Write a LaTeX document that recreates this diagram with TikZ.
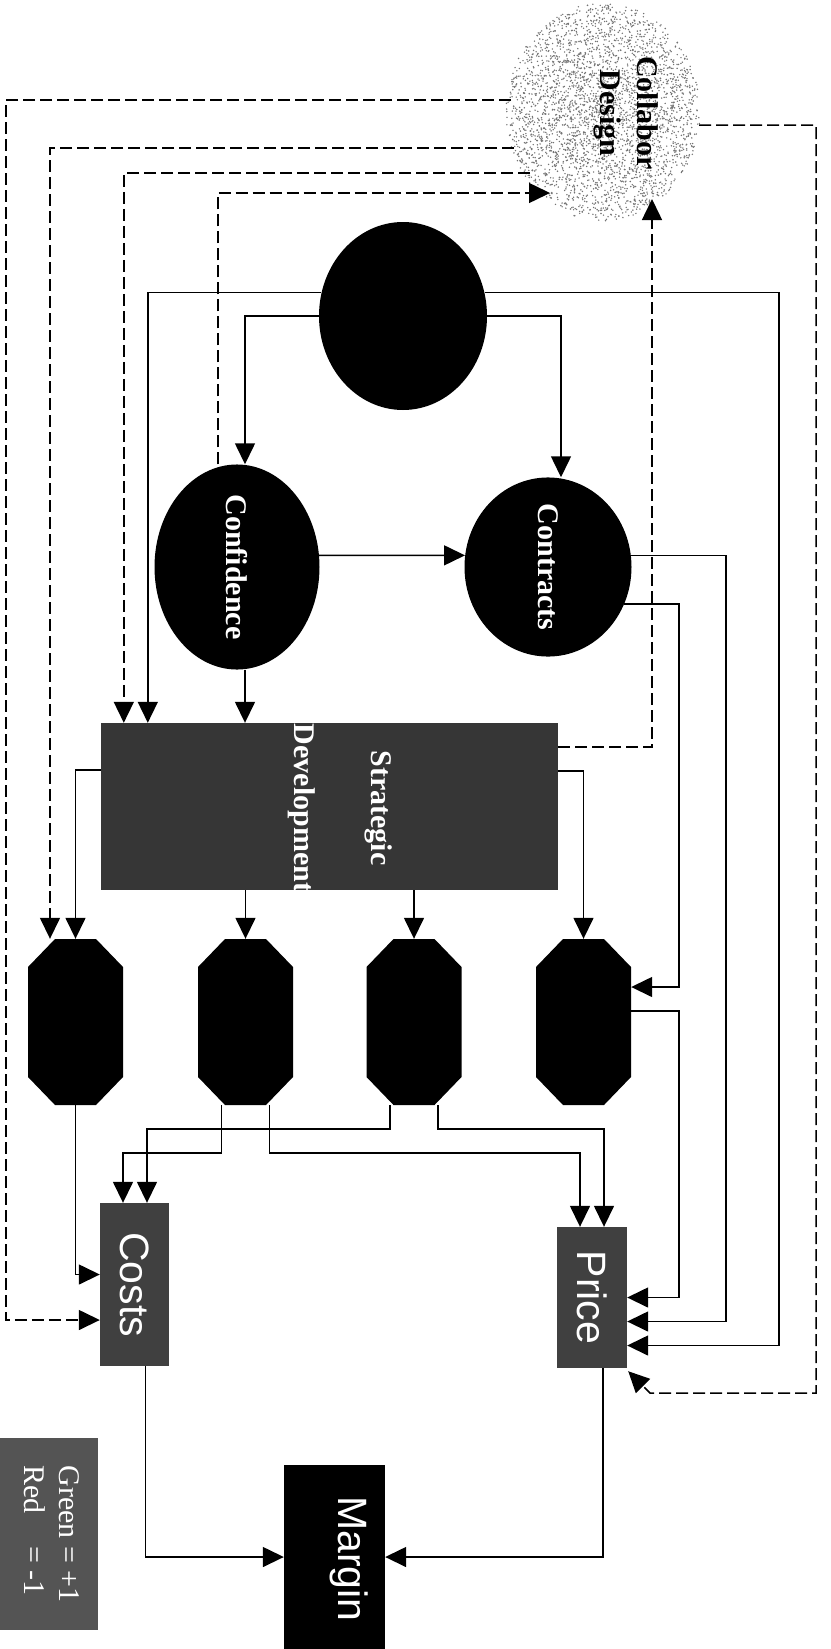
\documentclass[tikz,border=0pt]{standalone}
\usepackage{fontspec}
\setmainfont{Liberation Serif}
\newfontfamily\arialfont{Liberation Sans}
\usetikzlibrary{arrows.meta,shapes.geometric,calc}
\definecolor{stratgray}{gray}{0.21}
\definecolor{boxgray}{gray}{0.25}
\definecolor{leggray}{gray}{0.33}
\definecolor{dotgray}{gray}{0.45}
\begin{document}
\begin{tikzpicture}[x=1pt,y=-1pt,
  conn/.style={line width=1.5pt,-{Triangle[length=21pt,width=20pt]}},
  dconn/.style={conn,dash pattern=on 12pt off 5pt},
  blackell/.style={ellipse,fill=black,inner sep=0pt,text=white,
    font=\fontsize{30}{36}\selectfont\bfseries},
  octbox/.style={rectangle,minimum width=95pt,minimum height=166pt,inner sep=0pt,
    path picture={\fill[black]
      ([xshift=27pt]path picture bounding box.north west) --
      ([xshift=-27pt]path picture bounding box.north east) --
      ([yshift=-28pt]path picture bounding box.north east) --
      ([yshift=28pt]path picture bounding box.south east) --
      ([xshift=-27pt]path picture bounding box.south east) --
      ([xshift=27pt]path picture bounding box.south west) --
      ([yshift=28pt]path picture bounding box.south west) --
      ([yshift=-28pt]path picture bounding box.north west) -- cycle;}},
  sansbox/.style={rectangle,fill=boxgray,inner sep=0pt,text=white,
    font=\arialfont\fontsize{41}{48}\selectfont},
  whitebold/.style={text=white,inner sep=0pt,font=\fontsize{30}{77}\selectfont\bfseries}
]
\useasboundingbox (0,0) rectangle (830,1649);

% Collabor Design speckled blob
\pgfmathsetseed{7}
\foreach \i in {1,...,3400}{
  \pgfmathsetmacro\rr{pow(rnd,0.6)}
  \pgfmathsetmacro\aa{360*rnd}
  \fill[dotgray] ({603+97*\rr*cos(\aa)},{112+109*\rr*sin(\aa)}) circle[radius=0.8pt];
}
\node[inner sep=0pt,font=\fontsize{30}{37}\selectfont\bfseries] (blob) at (626,113)
  {\rotatebox{-90}{\begin{tabular}{@{}c@{}}Collabor\\Design\end{tabular}}};
\coordinate (cd1) at (511,100);
\coordinate (cd2) at (514,148);
\coordinate (cd3) at (530,173);
\coordinate (cd4) at (550,193);
\coordinate (cd5) at (652,199);
\coordinate (cd6) at (699,125);

% nodes
\node[blackell,minimum width=168pt,minimum height=188pt] (topel) at (403,316) {};
\node[blackell,minimum width=165pt,minimum height=163pt] (conf) at (237,567) {\rotatebox{-90}{Confidence}};
\node[blackell,minimum width=167pt,minimum height=163pt] (contr) at (548,567) {\rotatebox{-90}{Contracts}};
\node[rectangle,fill=stratgray,minimum width=457pt,minimum height=167pt,inner sep=0pt] (strat) at (329.5,806.5) {};
\node[whitebold] (strattext) at (348.5,808)
  {\rotatebox{-90}{\fontsize{30}{77}\selectfont\begin{tabular}{@{}c@{}}Strategic\\Development\end{tabular}}};
\node[octbox] (oct1) at (75.5,1022) {};
\node[octbox] (oct2) at (245.5,1022) {};
\node[octbox] (oct3) at (414,1022) {};
\node[octbox] (oct4) at (583.5,1022) {};
\node[sansbox,minimum width=69pt,minimum height=163pt] (costs) at (134.5,1284.5) {\rotatebox{-90}{Costs}};
\node[sansbox,minimum width=70pt,minimum height=141pt] (price) at (592,1297.5) {\rotatebox{-90}{Price}};
\node[rectangle,fill=black,minimum width=101pt,minimum height=184pt,inner sep=0pt] (margin) at (334.5,1557) {};
\node[text=white,inner sep=0pt,font=\arialfont\fontsize{41}{48}\selectfont] (margintext) at (349,1559) {\rotatebox{-90}{Margin}};
\node[rectangle,fill=leggray,minimum width=98pt,minimum height=192pt,inner sep=0pt,
  text=white,font=\fontsize{30}{35}\selectfont] (legend) at (49,1534)
  {\rotatebox{-90}{\fontsize{30}{35}\selectfont\begin{tabular}{@{}l@{\ }l@{}}Green & = +1\\Red & = -1\end{tabular}}};

% solid connectors
\draw[conn] (topel.west) -| ([xshift=8pt]conf.north);
\draw[conn] (topel.east) -| ([xshift=13pt]contr.north);
\draw[conn] (topel.164) -| ([xshift=47pt]strat.north west);
\draw[conn] (topel.16) -| (779,700) |- ([yshift=-48pt]price.east);
\draw[conn] (conf.8) -- (contr.172);
\draw[conn] ([xshift=8pt]conf.south) -- ([xshift=8pt]conf.south |- strat.north);
\draw[conn] (contr.8) -| (726,900) |- ([yshift=-24pt]price.east);
\draw[conn] (contr.-26) -| (679,800) |- ([yshift=35pt]oct4.east);
\draw[conn] ([yshift=11pt]oct4.east) -| (679,1200) |- (price.east);
\draw[conn] ([yshift=36.5pt]strat.west) -| (oct1.north);
\draw[conn] ([yshift=35.5pt]strat.east) -| (oct4.north);
\draw[conn] (oct2.north |- strat.south) -- (oct2.north);
\draw[conn] (oct3.north |- strat.south) -- (oct3.north);
\draw[conn] (oct1.south) |- ([yshift=10pt]costs.west);
\draw[conn] ([xshift=-24pt]oct2.south) -- ++(0,48) -| ([xshift=-11.5pt]costs.north);
\draw[conn] ([xshift=24pt]oct2.south) -- ++(0,48) -| ([xshift=-12pt]price.north);
\draw[conn] ([xshift=-24pt]oct3.south) -- ++(0,24) -| ([xshift=12.5pt]costs.north);
\draw[conn] ([xshift=24pt]oct3.south) -- ++(0,24) -| ([xshift=12pt]price.north);
\draw[conn] ([xshift=11pt]costs.south) |- (margin.west);
\draw[conn] ([xshift=11pt]price.south) |- (margin.east);

% dashed connectors
\draw[dconn] (cd1) -| (6,800) |- ([yshift=-35.5pt]costs.west);
\draw[dconn] (cd2) -| ([xshift=-25.5pt]oct1.north);
\draw[dconn] (cd3) -| ([xshift=23pt]strat.north west);
\draw[dconn] ([xshift=-19pt]conf.north) |- (cd4);
\draw[dconn] ([yshift=59.5pt]strat.east) -| (cd5);
\draw[dconn] (cd6) -| (816,800) |- (650,1393) -- ([shift={(1pt,-3pt)}]price.south east);
\end{tikzpicture}
\end{document}
